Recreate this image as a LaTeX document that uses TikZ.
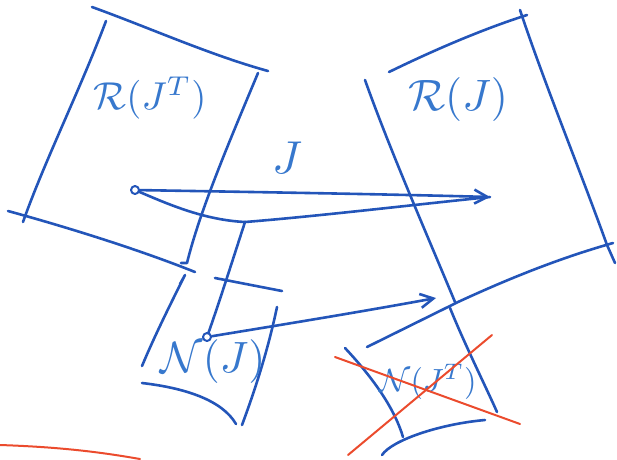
\documentclass[tikz,border=0pt]{standalone}
\usetikzlibrary{arrows.meta}
\definecolor{pen}{RGB}{35,85,185}
\definecolor{ink}{RGB}{55,120,205}
\definecolor{redpen}{RGB}{235,75,45}
\begin{document}
\begin{tikzpicture}[x=1pt,y=-1pt,line cap=round,line join=round,
  stroke/.style={draw=pen,line width=2.6pt},
  redstroke/.style={draw=redpen,line width=2pt},
  dotnode/.style={circle,draw=pen,fill=white,line width=2pt,inner sep=0pt,minimum size=8pt},
  label/.style={text=ink,inner sep=0pt},
  tip/.style={-{Straight Barb[length=13pt,width=14pt,line width=2.6pt]}}]
\useasboundingbox (0,0) rectangle (617,459);
% left box R(J^T)
\draw[stroke] (92,7) .. controls (150,28) and (210,55) .. (268,71);
\draw[stroke] (106,21) .. controls (80,90) and (45,160) .. (23,222);
\draw[stroke] (8,211) .. controls (70,228) and (140,250) .. (195,272);
\draw[stroke] (258,73) .. controls (230,140) and (200,210) .. (187,263) -- (181,263);
\node[label] (rjt) at (150,98) {\resizebox{113pt}{!}{$\mathcal{R}(J^{T})$}};
% right box R(J)
\draw[stroke] (389,72) .. controls (430,52) and (480,30) .. (527,15);
\draw[stroke] (520,10) .. controls (545,85) and (580,170) .. (607,245) -- (615,263);
\draw[stroke] (365,80) .. controls (390,150) and (425,230) .. (455,302);
\draw[stroke] (367,347) -- (458,302) .. controls (510,278) and (560,258) .. (613,243);
\node[label] (rj) at (458,100) {\resizebox{100pt}{!}{$\mathcal{R}(J)$}};
% N(J) box
\draw[stroke] (215,278) -- (282,291);
\draw[stroke] (142,366) .. controls (155,335) and (170,305) .. (185,275) -- (180,284);
\draw[stroke] (142,383) .. controls (185,388) and (222,400) .. (236,424);
\draw[stroke] (277,307) .. controls (268,350) and (255,390) .. (242,425);
\node[label] (nj) at (213,362) {\resizebox{105pt}{!}{$\mathcal{N}(J)$}};
% N(J^T) box
\draw[stroke] (345,348) .. controls (375,380) and (395,410) .. (403,437);
\draw[stroke] (450,308) .. controls (465,345) and (485,385) .. (497,412);
\draw[stroke] (382,455) .. controls (392,440) and (440,424) .. (485,420);
\node[label] (njt) at (428,382) {\resizebox{97pt}{!}{$\mathcal{N}(J^{T})$}};
% vectors
\node[dotnode] (x) at (135,190) {};
\node[dotnode] (xn) at (207,337) {};
\coordinate (jx) at (490,197);
\coordinate (junc) at (245,222);
\coordinate (zero) at (436,298);
\draw[stroke,tip] (x) .. controls (250,192) and (380,194) .. (jx);
\draw[stroke] (x) .. controls (170,205) and (205,220) .. (junc);
\draw[stroke] (junc) .. controls (320,216) and (420,204) .. (jx);
\draw[stroke] (junc) .. controls (232,262) and (220,300) .. (xn);
\draw[stroke,tip] (xn) .. controls (280,325) and (360,312) .. (zero);
\node[label] (jlab) at (287,158) {\resizebox{30pt}{!}{$J$}};
% red crosses
\draw[redstroke] (335,357) -- (520,424);
\draw[redstroke] (348,455) -- (492,335);
\draw[redstroke] (0,445) .. controls (60,447) and (100,452) .. (140,459);
\end{tikzpicture}
\end{document}
